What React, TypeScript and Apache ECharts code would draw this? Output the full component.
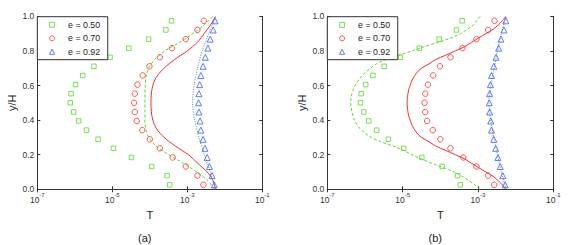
import React, { useEffect, useRef } from "react";
import * as echarts from "echarts";

// y/H positions of the markers
const yMarks = [0.026, 0.079, 0.132, 0.184, 0.237, 0.289, 0.342, 0.395, 0.447, 0.5, 0.553, 0.605, 0.658, 0.711, 0.763, 0.816, 0.868, 0.921, 0.974];
// log10(T) of the markers (same in both panels)
const expSquare = [-3.47, -3.54, -3.95, -4.49, -4.97, -5.38, -5.69, -5.90, -6.03, -6.12, -6.10, -5.98, -5.79, -5.49, -5.06, -4.56, -4.03, -3.57, -3.42];
const expCircle = [-2.57, -2.73, -3.04, -3.39, -3.73, -4.00, -4.20, -4.35, -4.40, -4.42, -4.40, -4.33, -4.19, -4.01, -3.73, -3.41, -3.04, -2.73, -2.56];
const expTriangle = [-2.28, -2.34, -2.41, -2.47, -2.53, -2.58, -2.64, -2.66, -2.69, -2.70, -2.69, -2.67, -2.64, -2.58, -2.52, -2.45, -2.39, -2.31, -2.26];

// curves, panel (a)
const yLineA = [0, 0.05, 0.1, 0.15, 0.2, 0.25, 0.3, 0.35, 0.4, 0.45, 0.5, 0.55, 0.6, 0.65, 0.7, 0.75, 0.8, 0.85, 0.9, 0.95, 1.0];
const greenA = [-2.28, -2.45, -2.75, -3.10, -3.50, -3.83, -4.03, -4.11, -4.13, -4.13, -4.13, -4.13, -4.12, -4.10, -4.03, -3.87, -3.60, -3.20, -2.85, -2.55, -2.32];
const redA = [-2.25, -2.31, -2.47, -2.72, -2.97, -3.32, -3.62, -3.82, -3.92, -3.96, -3.97, -3.96, -3.92, -3.82, -3.62, -3.34, -3.00, -2.73, -2.55, -2.38, -2.25];
const yBlue = [0, 0.1, 0.2, 0.3, 0.4, 0.5, 0.6, 0.7, 0.8, 0.9, 1.0];
const blueA = [-2.25, -2.39, -2.54, -2.69, -2.80, -2.86, -2.82, -2.73, -2.60, -2.43, -2.25];

// curves, panel (b)
const yLineB = [0, 0.025, 0.05, 0.075, 0.1, 0.125, 0.15, 0.175, 0.2, 0.225, 0.25, 0.275, 0.3, 0.325, 0.35, 0.375, 0.4, 0.425, 0.45, 0.475, 0.5,
  0.525, 0.55, 0.575, 0.6, 0.625, 0.65, 0.675, 0.7, 0.725, 0.75, 0.775, 0.8, 0.825, 0.85, 0.875, 0.9, 0.925, 0.95, 0.975, 1.0];
const greenB = [-2.95, -3.08, -3.24, -3.42, -3.63, -3.92, -4.22, -4.50, -4.75, -4.98, -5.25, -5.58, -5.83, -6.00, -6.13, -6.22, -6.28, -6.32, -6.35, -6.37, -6.38,
  -6.37, -6.35, -6.31, -6.26, -6.19, -6.10, -5.99, -5.85, -5.70, -5.45, -5.10, -4.75, -4.42, -4.05, -3.72, -3.46, -3.28, -3.12, -3.03, -2.94];
const redB = [-2.26, -2.35, -2.46, -2.60, -2.79, -2.98, -3.17, -3.35, -3.60, -3.86, -4.12, -4.30, -4.50, -4.62, -4.70, -4.76, -4.80, -4.84, -4.86, -4.875, -4.88,
  -4.875, -4.86, -4.84, -4.80, -4.76, -4.70, -4.62, -4.50, -4.30, -4.12, -3.86, -3.60, -3.35, -3.17, -2.98, -2.79, -2.60, -2.46, -2.35, -2.26];
const blueB = [-2.25, -2.38, -2.48, -2.58, -2.66, -2.71, -2.66, -2.57, -2.48, -2.38, -2.25];

const seriesNames = ["e = 0.50", "e = 0.70", "e = 0.92"];
const xTicks = [1e-7, 1e-5, 1e-3, 1e-1];
const panelLabels = ["(a)", "(b)"];

const GREEN = "#5ad82a";
const RED = "#ff2a2a";
const BLUE = "#3a5cff";
const AX = "#333";
const FONT = "Liberation Sans";

const pts = (exps: number[], ys: number[]) => exps.map((e, i) => [Math.pow(10, e), ys[i]]);

export default function App() {
  const ref = useRef<HTMLDivElement>(null);
  useEffect(() => {
    if (!ref.current) return;
    const chart = echarts.init(ref.current, undefined, { renderer: "svg" });
    const gridLefts = [37.3, 327.3];
    const gridW = [225, 226];
    const top = 16.3;
    const h = 173;

    const grids = gridLefts.map((l, i) => ({ left: l, top, width: gridW[i], height: h, show: false }));
    const xAxes: any[] = [];
    const yAxes: any[] = [];
    gridLefts.forEach((_, i) => {
      const base = {
        type: "log",
        logBase: 10,
        gridIndex: i,
        min: 1e-7,
        max: 1e-1,
        splitLine: { show: false },
        minorTick: { show: false },
        axisLine: { show: true, lineStyle: { color: AX, width: 1 } },
        axisTick: { show: true, inside: true, length: 3, customValues: xTicks, lineStyle: { color: AX } },
      };
      xAxes.push({
        ...base,
        position: "bottom",
        name: "T",
        nameLocation: "middle",
        nameGap: 13,
        nameTextStyle: { fontSize: 11, fontFamily: FONT, color: "#222" },
        axisLabel: {
          customValues: xTicks,
          margin: 3,
          color: AX,
          fontFamily: FONT,
          formatter: (v: number) => `{b|10}{s|${Math.round(Math.log10(v))}}`,
          rich: {
            b: { fontSize: 8.5, fontFamily: FONT, color: AX },
            s: { fontSize: 6, fontFamily: FONT, color: AX, padding: [0, 0, 9, 0] },
          },
        },
      });
      xAxes.push({ ...base, position: "top", axisLabel: { show: false } });
      const ybase = {
        type: "value",
        gridIndex: i,
        min: 0,
        max: 1,
        interval: 0.2,
        splitLine: { show: false },
        axisLine: { show: true, onZero: false, lineStyle: { color: AX, width: 1 } },
        axisTick: { show: true, inside: true, length: 3, lineStyle: { color: AX } },
      };
      yAxes.push({
        ...ybase,
        position: "left",
        name: "y/H",
        nameLocation: "middle",
        nameGap: 20,
        nameTextStyle: { fontSize: 11, fontFamily: FONT, color: "#222" },
        axisLabel: { margin: 3, fontSize: 8.5, fontFamily: FONT, color: AX, formatter: (v: number) => v.toFixed(1) },
      });
      yAxes.push({ ...ybase, position: "right", axisLabel: { show: false } });
    });

    const series: any[] = [];
    const lines = [
      [greenA, yLineA, redA, yLineA, blueA, yBlue],
      [greenB, yLineB, redB, yLineB, blueB, yBlue],
    ];
    gridLefts.forEach((_, i) => {
      const xi = 2 * i;
      const yi = 2 * i;
      const [g, gy, r, ry, b, by] = lines[i];
      series.push(
        {
          type: "line", name: "fit 0.50 " + panelLabels[i], xAxisIndex: xi, yAxisIndex: yi, data: pts(g, gy),
          showSymbol: false, smooth: 0.3, lineStyle: { color: GREEN, width: 1, type: [3, 2] }, z: 2, silent: true,
        },
        {
          type: "line", name: "fit 0.70 " + panelLabels[i], xAxisIndex: xi, yAxisIndex: yi, data: pts(r, ry),
          showSymbol: false, smooth: 0.3, lineStyle: { color: RED, width: 1 }, z: 2, silent: true,
        },
        {
          type: "line", name: "fit 0.92 " + panelLabels[i], xAxisIndex: xi, yAxisIndex: yi, data: pts(b, by),
          showSymbol: false, smooth: 0.3, lineStyle: { color: "#5577ff", width: 1, type: [1, 1.5] }, z: 2, silent: true,
        },
        {
          type: "scatter", name: seriesNames[0], xAxisIndex: xi, yAxisIndex: yi, data: pts(expSquare, yMarks),
          symbol: "rect", symbolSize: 4.5, itemStyle: { color: "rgba(0,0,0,0)", borderColor: GREEN, borderWidth: 1 }, z: 3,
        },
        {
          type: "scatter", name: seriesNames[1], xAxisIndex: xi, yAxisIndex: yi, data: pts(expCircle, yMarks),
          symbol: "circle", symbolSize: 5.5, itemStyle: { color: "rgba(0,0,0,0)", borderColor: RED, borderWidth: 1 }, z: 3,
        },
        {
          type: "scatter", name: seriesNames[2], xAxisIndex: xi, yAxisIndex: yi, data: pts(expTriangle, yMarks),
          symbol: "triangle", symbolSize: 6, itemStyle: { color: "rgba(0,0,0,0)", borderColor: BLUE, borderWidth: 1 }, z: 3,
        }
      );
    });

    const legends = gridLefts.map((l) => ({
      data: seriesNames,
      left: l,
      top: top + 0.4,
      orient: "vertical",
      itemWidth: 5,
      itemHeight: 5,
      itemGap: 4.5,
      padding: [3.6, 7.6, 3.4, 11.8],
      backgroundColor: "#fff",
      borderColor: AX,
      borderWidth: 1,
      borderRadius: 0,
      selectedMode: false,
      itemStyle: { borderWidth: 1 },
      textStyle: { fontSize: 8.8, lineHeight: 8, fontFamily: FONT, color: "#222", padding: [0, 0, 0, 8.5] },
      z: 10,
    }));

    chart.setOption({
      animation: false,
      backgroundColor: "#fff",
      grid: grids,
      xAxis: xAxes,
      yAxis: yAxes,
      legend: legends,
      series,
      graphic: panelLabels.map((t, i) => ({
        type: "text",
        x: gridLefts[i] + gridW[i] / 2 - 5,
        y: 237.7,
        style: { text: t, fontSize: 11, fontFamily: FONT, fill: "#222", align: "center", verticalAlign: "middle" },
      })),
    });
    return () => chart.dispose();
  }, []);
  return <div ref={ref} style={{ position: "fixed", left: 0, top: 0, width: 581, height: 245 }} />;
}
